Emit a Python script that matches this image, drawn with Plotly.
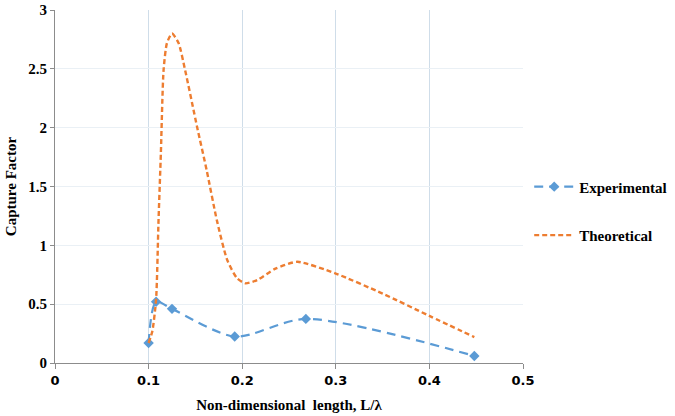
import plotly.graph_objects as go

exp_x = [0.100, 0.108, 0.125, 0.192, 0.268, 0.448]
exp_y = [0.17, 0.52, 0.46, 0.225, 0.375, 0.06]

theo_x = [0.100, 0.104, 0.108, 0.1106, 0.1131, 0.116, 0.1196, 0.125, 0.132, 0.139, 0.1517, 0.162, 0.173, 0.184,
          0.1945, 0.2034, 0.216, 0.235, 0.259, 0.300, 0.350, 0.400, 0.448]
theo_y = [0.17, 0.27, 0.54, 1.21, 1.78, 2.49, 2.72, 2.80, 2.72, 2.49, 2.01, 1.64, 1.21, 0.875,
          0.72, 0.677, 0.705, 0.80, 0.86, 0.76, 0.59, 0.40, 0.22]

x_ticks = [0, 0.1, 0.2, 0.3, 0.4, 0.5]
x_tick_labels = ["0", "0.1", "0.2", "0.3", "0.4", "0.5"]
y_ticks = [0, 0.5, 1, 1.5, 2, 2.5, 3]
y_tick_labels = ["0", "0.5", "1", "1.5", "2", "2.5", "3"]

fig = go.Figure()
fig.add_trace(go.Scatter(
    x=exp_x, y=exp_y, name="Experimental", mode="lines+markers",
    line=dict(color="#5b9bd5", width=2.2, dash="9px,6px", shape="spline", smoothing=0.8),
    marker=dict(symbol="diamond", size=8, color="#5b9bd5"),
    legendgroup="a",
))
fig.add_trace(go.Scatter(
    x=theo_x, y=theo_y, name="Theoretical", mode="lines",
    line=dict(color="#ed7d31", width=2.4, dash="5px,3px", shape="spline", smoothing=0.6),
    legendgroup="b",
))

fig.update_layout(
    width=675, height=416,
    margin=dict(l=55, r=152, t=10, b=53),
    paper_bgcolor="white", plot_bgcolor="white",
    font=dict(family="Liberation Serif", color="black"),
    showlegend=True,
    legend=dict(xref="container", yref="container", x=0.784, y=0.493,
                xanchor="left", yanchor="middle",
                font=dict(family="Liberation Serif", size=15, color="black", weight="bold"),
                tracegroupgap=26, itemwidth=40),
    xaxis=dict(range=[0, 0.5], tickvals=x_ticks, ticktext=x_tick_labels,
               automargin=False,
               showgrid=True, gridcolor="#cfdde9", gridwidth=1,
               showline=True, linecolor="#8c8c8c", linewidth=1,
               ticks="outside", ticklen=5, tickcolor="#8c8c8c",
               tickfont=dict(family="DejaVu Sans", size=13, color="black", weight="bold"),
               title=dict(text="Non-dimensional  length, L/λ", standoff=12,
                          font=dict(family="Liberation Serif", size=15, color="black", weight="bold")),
               zeroline=False),
    yaxis=dict(range=[0, 3], tickvals=y_ticks, ticktext=y_tick_labels,
               automargin=False,
               showgrid=True, gridcolor="#eaf0f5", gridwidth=1,
               showline=True, linecolor="#8c8c8c", linewidth=1,
               ticks="outside", ticklen=4, tickcolor="#8c8c8c",
               tickfont=dict(family="Liberation Serif", size=15, color="black", weight="bold"),
               title=dict(text="Capture Factor", standoff=8,
                          font=dict(family="Liberation Serif", size=15, color="black", weight="bold")),
               zeroline=False),
)

fig.write_html("out.html", config={"displayModeBar": False},
               post_script="document.body.style.margin='0';document.body.style.overflow='hidden';")
